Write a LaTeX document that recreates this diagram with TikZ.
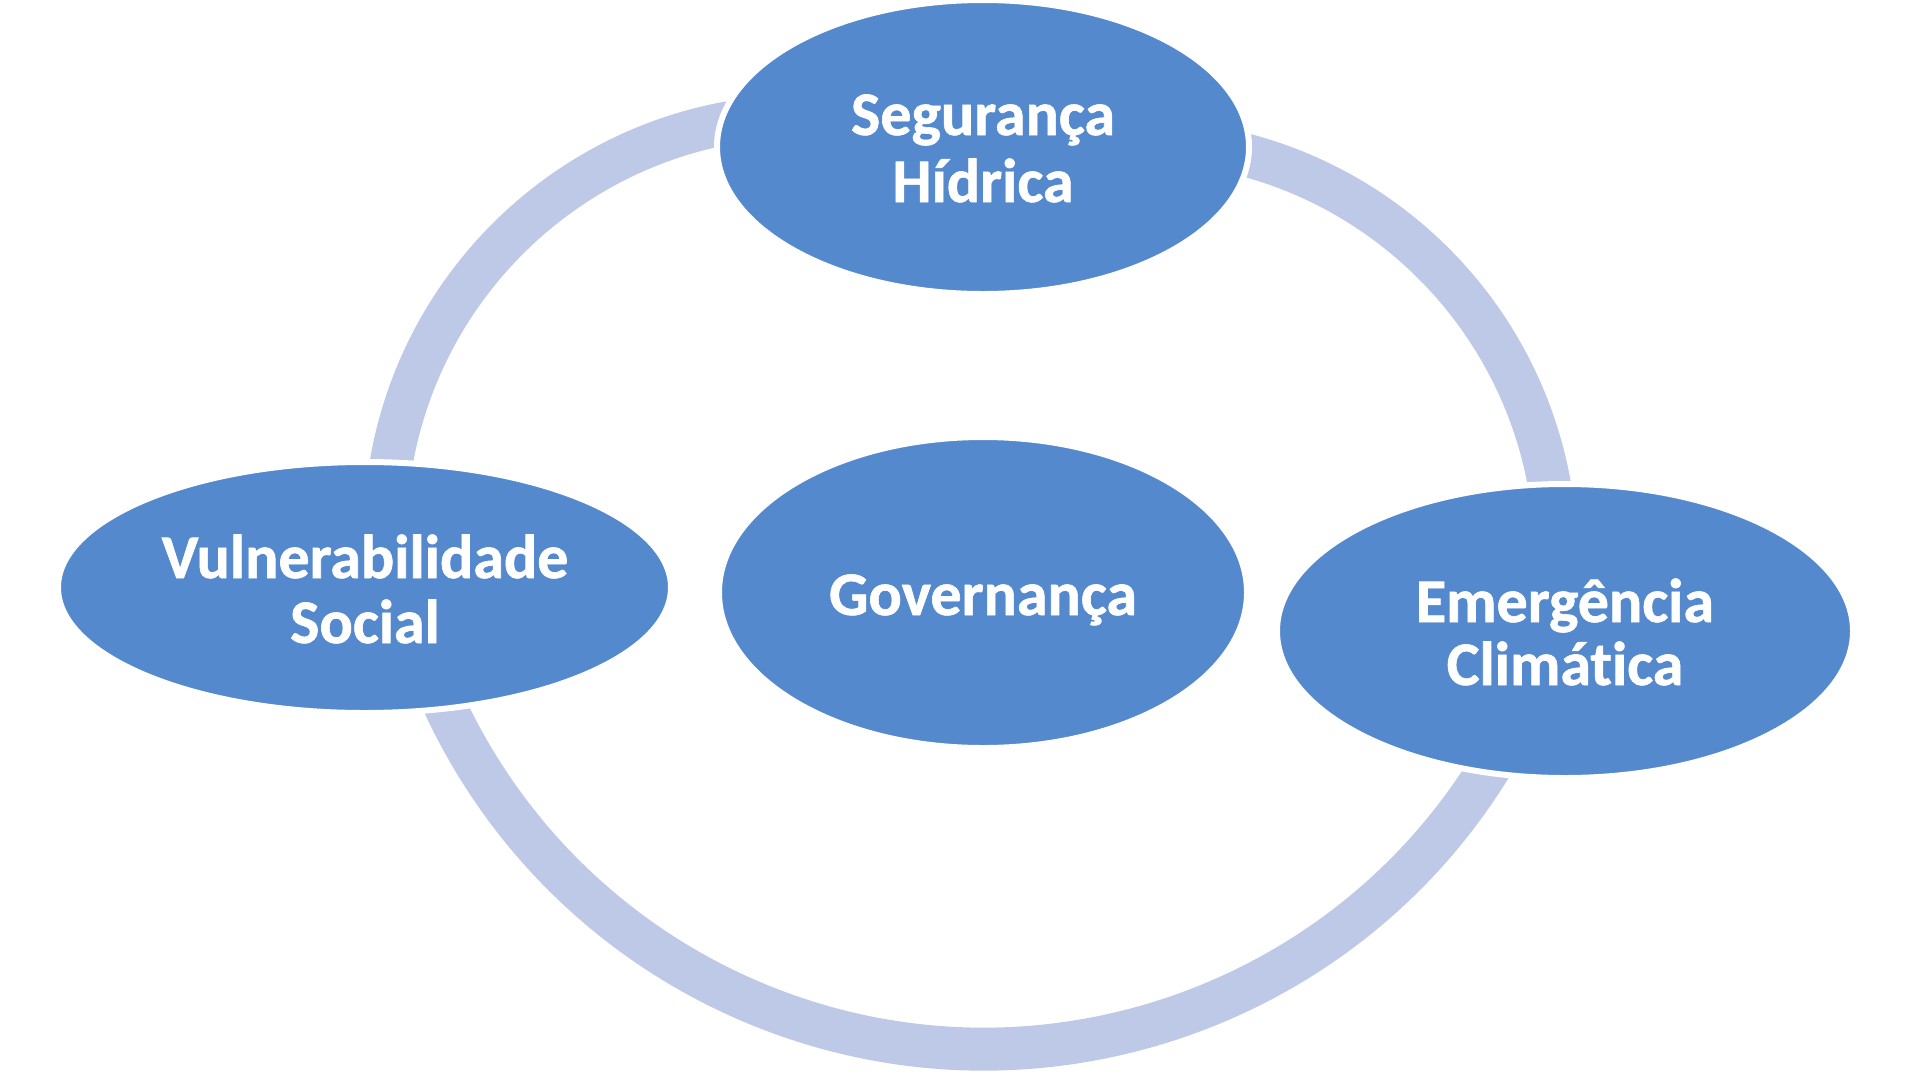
\documentclass[tikz,border=0pt]{standalone}
\usepackage{fontspec}
\newfontfamily\diagfont{Carlito}[Ligatures=CommonOff, BoldFeatures={FakeBold=1}]
\usetikzlibrary{shapes.geometric,calc}
\definecolor{nodeblue}{RGB}{85,137,206}
\definecolor{ringblue}{RGB}{189,201,230}
\tikzset{
  blob/.style={ellipse, fill=nodeblue, draw=white, line width=6pt, inner sep=0pt, outer sep=0pt},
  lbl/.style={anchor=base, text=white, inner sep=0pt, font=\diagfont\bfseries\fontsize{62}{67}\selectfont},
  ring/.style={draw=ringblue, line width=43pt}
}
\begin{document}
\begin{tikzpicture}[x=1pt,y=-1pt]
\useasboundingbox (0,0) rectangle (1920,1080);
% ring arcs (centres of the three circular arcs)
\coordinate (cTL) at (804,535);
\coordinate (cTR) at (1138,559);
\coordinate (cB) at (984,454);
\draw[ring] ($(cTL)+(185:419)$) arc[start angle=185, end angle=270, radius=419];
\draw[ring] ($(cTR)+(270:418)$) arc[start angle=270, end angle=360, radius=418];
\draw[ring] ($(cB)+(25:595)$) arc[start angle=25, end angle=160, radius=595];
% ellipses
\node[blob, minimum width=532pt, minimum height=294pt] (seg) at (983,147) {};
\node[blob, minimum width=613pt, minimum height=251pt] (vul) at (364.5,587.5) {};
\node[blob, minimum width=528pt, minimum height=311pt] (gov) at (983,592.5) {};
\node[blob, minimum width=576pt, minimum height=294pt] (eme) at (1565,631) {};
% texts
\node[lbl] (seg1) at (983,135) {Segurança};
\node[lbl] (seg2) at (983,202) {Hídrica};
\node[lbl] (vul1) at (365,578) {Vulnerabilidade};
\node[lbl] (vul2) at (365,643) {Social};
\node[lbl] (gov1) at (983,615) {Governança};
\node[lbl] (eme1) at (1565,622) {Emergência};
\node[lbl] (eme2) at (1565,685) {Climática};
\end{tikzpicture}
\end{document}
